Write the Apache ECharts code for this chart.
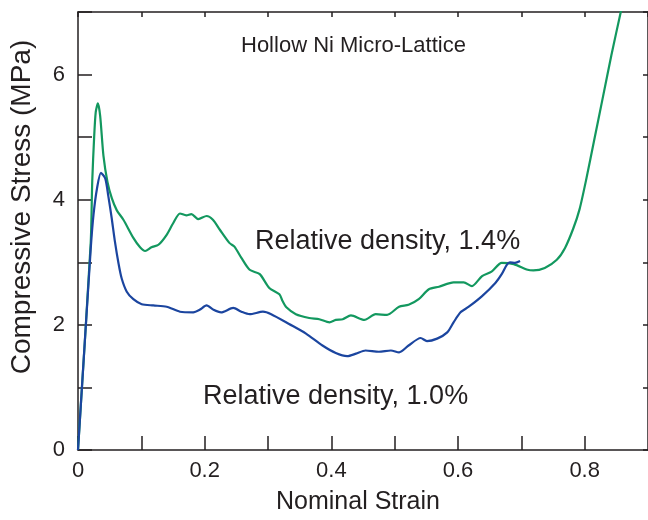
<!DOCTYPE html>
<html>
<head>
<meta charset="utf-8">
<style>
  html, body { margin: 0; padding: 0; background: #fff; }
  #chart { width: 648px; height: 520px; }
</style>
<script src="https://cdn.jsdelivr.net/npm/echarts@6/dist/echarts.min.js"></script>
</head>
<body>
<div id="chart"></div>
<script>
// Compressive stress–strain response of hollow Ni micro-lattices
const strainDense = [0, 0.020, 0.0225, 0.0255, 0.028, 0.0314, 0.035, 0.0402, 0.0466, 0.0535, 0.0613, 0.0717, 0.0874, 0.098, 0.106, 0.116, 0.127, 0.14, 0.150, 0.161, 0.171, 0.179, 0.190, 0.203, 0.213, 0.224, 0.239, 0.247, 0.258, 0.271, 0.287, 0.302, 0.318, 0.323, 0.329, 0.344, 0.365, 0.381, 0.397, 0.407, 0.418, 0.431, 0.452, 0.47, 0.488, 0.507, 0.522, 0.538, 0.554, 0.570, 0.593, 0.609, 0.622, 0.638, 0.653, 0.669, 0.688, 0.710, 0.719, 0.737, 0.756, 0.769, 0.782, 0.792, 0.803, 0.815, 0.828, 0.842, 0.857, 0.866];
const stressDense = [0, 3.3, 4.3, 5.0, 5.4, 5.54, 5.34, 4.70, 4.28, 4.02, 3.83, 3.68, 3.39, 3.24, 3.18, 3.24, 3.28, 3.44, 3.62, 3.78, 3.75, 3.77, 3.69, 3.74, 3.68, 3.52, 3.31, 3.25, 3.07, 2.88, 2.81, 2.59, 2.49, 2.38, 2.28, 2.17, 2.11, 2.09, 2.04, 2.08, 2.09, 2.15, 2.08, 2.17, 2.16, 2.29, 2.32, 2.41, 2.57, 2.61, 2.68, 2.68, 2.62, 2.78, 2.85, 2.99, 2.97, 2.88, 2.87, 2.91, 3.04, 3.23, 3.54, 3.85, 4.35, 4.95, 5.6, 6.3, 7.0, 7.4];

const strainLight = [0, 0.020, 0.0245, 0.030, 0.0362, 0.043, 0.048, 0.053, 0.058, 0.064, 0.069, 0.077, 0.0874, 0.1006, 0.119, 0.140, 0.161, 0.182, 0.192, 0.203, 0.214, 0.226, 0.245, 0.258, 0.271, 0.292, 0.305, 0.334, 0.360, 0.386, 0.407, 0.425, 0.439, 0.454, 0.475, 0.494, 0.507, 0.522, 0.541, 0.551, 0.567, 0.583, 0.593, 0.604, 0.617, 0.638, 0.659, 0.669, 0.677, 0.682, 0.690, 0.698];
const stressLight = [0, 3.2, 3.76, 4.18, 4.43, 4.34, 4.05, 3.72, 3.35, 2.98, 2.74, 2.53, 2.41, 2.33, 2.31, 2.29, 2.21, 2.20, 2.24, 2.31, 2.24, 2.20, 2.27, 2.21, 2.17, 2.21, 2.17, 2.01, 1.86, 1.67, 1.55, 1.50, 1.54, 1.59, 1.57, 1.59, 1.56, 1.67, 1.79, 1.74, 1.78, 1.88, 2.04, 2.20, 2.29, 2.46, 2.67, 2.81, 2.96, 3.0, 2.99, 3.02];

const seriesNames = ['Relative density, 1.4%', 'Relative density, 1.0%'];
const chartTitle = 'Hollow Ni Micro-Lattice';
const xAxisTitle = 'Nominal Strain';
const yAxisTitle = 'Compressive Stress (MPa)';

const ink = '#231f20';
const font = '"Liberation Sans", Arial, Helvetica, sans-serif';

const pairs = (xs, ys) => xs.map((x, i) => [x, ys[i]]);

const chart = echarts.init(document.getElementById('chart'), null, { renderer: 'canvas' });

// Frame axes: the opposite sides carry short ticks and no labels
const frameAxis = {
  axisLine: { show: true, onZero: false, lineStyle: { color: ink, width: 1.5 } },
  splitLine: { show: false },
};

chart.setOption({
  animation: false,
  backgroundColor: '#ffffff',
  grid: { left: 78, right: -2, top: 12, bottom: 66, containLabel: false },
  xAxis: [
    Object.assign({}, frameAxis, {
      type: 'value', min: 0, max: 0.9, interval: 0.1, position: 'bottom',
      axisTick: { show: true, inside: true, length: 14, lineStyle: { color: ink, width: 1.5 } },
      axisLabel: {
        color: ink, fontFamily: font, fontSize: 22, margin: 10,
        showMaxLabel: false,
        formatter: v => {
          const k = Math.round(v * 10);
          if (k % 2 !== 0 || k > 8) return '';
          return k === 0 ? '0' : (k / 10).toFixed(1);
        }
      },
      name: xAxisTitle, nameLocation: 'middle', nameGap: 40,
      nameTextStyle: { color: ink, fontFamily: font, fontSize: 25, padding: [0, 10, 0, 0] }
    }),
    Object.assign({}, frameAxis, {
      type: 'value', min: 0, max: 0.9, interval: 0.1, position: 'top',
      axisTick: { show: true, inside: true, length: 5, lineStyle: { color: ink, width: 1.5 } },
      axisLabel: { show: false }
    })
  ],
  yAxis: [
    Object.assign({}, frameAxis, {
      type: 'value', min: 0, max: 7, interval: 1, position: 'left',
      axisTick: { show: true, inside: true, length: 14, lineStyle: { color: ink, width: 1.5 } },
      axisLabel: {
        color: ink, fontFamily: font, fontSize: 22, margin: 13, padding: [6, 0, 0, 0],
        formatter: v => (Math.round(v) % 2 === 0 ? String(Math.round(v)) : '')
      }
    }),
    Object.assign({}, frameAxis, {
      type: 'value', min: 0, max: 7, interval: 1, position: 'right',
      axisTick: { show: true, inside: true, length: 5, lineStyle: { color: ink, width: 1.5 } },
      axisLabel: { show: false }
    })
  ],
  series: [
    {
      name: seriesNames[0], type: 'line', xAxisIndex: 0, yAxisIndex: 0,
      data: pairs(strainDense, stressDense),
      smooth: 0.25, showSymbol: false, clip: true,
      lineStyle: { color: '#13985f', width: 2.2 }
    },
    {
      name: seriesNames[1], type: 'line', xAxisIndex: 0, yAxisIndex: 0,
      data: pairs(strainLight, stressLight),
      smooth: 0.25, showSymbol: false, clip: true,
      lineStyle: { color: '#1b459f', width: 2.2 }
    }
  ],
  graphic: [
    {
      type: 'text', left: 241, top: 35,
      style: { text: chartTitle, fill: ink, font: '22px ' + font }
    },
    {
      type: 'text', left: 255, top: 228,
      style: { text: seriesNames[0], fill: ink, font: '27px ' + font }
    },
    {
      type: 'text', left: 203, top: 383,
      style: { text: seriesNames[1], fill: ink, font: '27px ' + font }
    },
    {
      type: 'text', x: 22, y: 207, rotation: Math.PI / 2,
      style: { text: yAxisTitle, fill: ink, font: '28px ' + font, align: 'center', verticalAlign: 'middle' }
    }
  ]
});
</script>
</body>
</html>
